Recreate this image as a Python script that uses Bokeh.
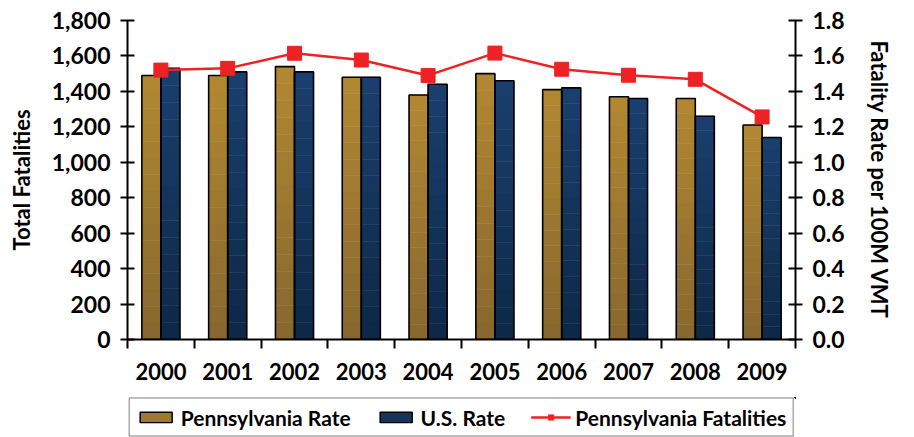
from bokeh.plotting import figure
from bokeh.layouts import column
from bokeh.models import (Range1d, LinearAxis, FixedTicker, NumeralTickFormatter,
                          Legend, LegendItem, ColumnDataSource)
from bokeh.embed import file_html
from bokeh.resources import INLINE

years = ["2000", "2001", "2002", "2003", "2004", "2005", "2006", "2007", "2008", "2009"]
pa_rate = [1.49, 1.49, 1.54, 1.48, 1.38, 1.50, 1.41, 1.37, 1.36, 1.21]
us_rate = [1.53, 1.51, 1.51, 1.48, 1.44, 1.46, 1.42, 1.36, 1.26, 1.14]
pa_fatalities = [1520, 1530, 1615, 1577, 1490, 1616, 1525, 1491, 1468, 1256]
left_ticks = [0, 200, 400, 600, 800, 1000, 1200, 1400, 1600, 1800]
right_ticks = [0.0, 0.2, 0.4, 0.6, 0.8, 1.0, 1.2, 1.4, 1.6, 1.8]

FONT = "Lato"
GOLD_TOP, GOLD_BOT, GOLD = (178, 136, 50), (135, 103, 46), "#9E7A31"
BLUE_TOP, BLUE_BOT, BLUE = (26, 63, 110), (13, 40, 70), "#153559"
RED = "#EE2224"
SLICES = 16

n = len(years)
centers = [i + 0.5 for i in range(n)]
bw = 0.285
src = ColumnDataSource(dict(
    xpa=[c - bw / 2 for c in centers],
    xus=[c + bw / 2 for c in centers],
    xc=centers, pa=pa_rate, us=us_rate, fat=pa_fatalities))

def hexcol(c1, c2, t):
    r, g, b = (round(a + (b_ - a) * t) for a, b_ in zip(c1, c2))
    return "#%02x%02x%02x" % (r, g, b)

def gradient_source(xs, tops, ctop, cbot):
    d = dict(x=[], bottom=[], top=[], color=[])
    for x, t in zip(xs, tops):
        for j in range(SLICES):
            d["x"].append(x)
            d["bottom"].append(t * j / SLICES)
            d["top"].append(t * (j + 1) / SLICES)
            d["color"].append(hexcol(cbot, ctop, (j + 0.5) / SLICES))
    return ColumnDataSource(d)

p = figure(width=914, height=397, output_backend="svg", toolbar_location=None,
           x_range=Range1d(0, n), y_range=Range1d(0, 1800),
           min_border_left=127, min_border_right=119, min_border_top=20,
           min_border_bottom=58, x_axis_location=None, y_axis_location=None)
p.extra_y_ranges = {"rate": Range1d(0, 1.8)}
p.grid.visible = False
p.outline_line_color = None

g_pa = gradient_source(src.data["xpa"], pa_rate, GOLD_TOP, GOLD_BOT)
g_us = gradient_source(src.data["xus"], us_rate, BLUE_TOP, BLUE_BOT)
for g in (g_pa, g_us):
    p.vbar(x="x", bottom="bottom", top="top", width=bw, source=g, y_range_name="rate",
           fill_color="color", line_color="color", line_width=0.5)
p.vbar(x="xpa", top="pa", width=bw, bottom=0, source=src, y_range_name="rate",
       fill_color=None, line_color="black", line_width=1.6)
p.vbar(x="xus", top="us", width=bw, bottom=0, source=src, y_range_name="rate",
       fill_color=None, line_color="black", line_width=1.6)
p.line(x="xc", y="fat", source=src, line_color=RED, line_width=2.5)
p.scatter(x="xc", y="fat", source=src, marker="square", size=14,
          fill_color=RED, line_color=RED)

def style_axis(ax):
    ax.axis_line_width = 2
    ax.axis_line_color = "black"
    ax.major_tick_line_width = 2
    ax.major_tick_line_color = "black"
    ax.minor_tick_line_width = 2
    ax.minor_tick_line_color = "black"
    ax.major_label_text_font = FONT
    ax.major_label_text_font_style = "bold"
    ax.major_label_text_font_size = "23px"
    ax.major_label_text_color = "black"
    ax.axis_label_text_font = FONT
    ax.axis_label_text_font_style = "bold"
    ax.axis_label_text_font_size = "22px"
    ax.axis_label_text_color = "black"

ax_l = LinearAxis(ticker=FixedTicker(ticks=left_ticks, minor_ticks=[]),
                  formatter=NumeralTickFormatter(format="0,0"),
                  axis_label="Total Fatalities")
style_axis(ax_l)
ax_l.major_tick_in = 7
ax_l.major_tick_out = 7
ax_l.major_label_standoff = 10
ax_l.axis_label_standoff = 14
p.add_layout(ax_l, "left")

ax_r = LinearAxis(y_range_name="rate",
                  ticker=FixedTicker(ticks=right_ticks, minor_ticks=[]),
                  formatter=NumeralTickFormatter(format="0.0"),
                  axis_label="Fatality Rate per 100M VMT")
style_axis(ax_r)
ax_r.major_tick_in = 7
ax_r.major_tick_out = 7
ax_r.major_label_standoff = 10
ax_r.axis_label_standoff = 18
p.add_layout(ax_r, "right")

ax_b = LinearAxis(ticker=FixedTicker(ticks=centers, minor_ticks=list(range(n + 1))),
                  major_label_overrides={c: y for c, y in zip(centers, years)})
style_axis(ax_b)
ax_b.major_label_text_font_size = "22px"
ax_b.major_tick_line_color = None
ax_b.minor_tick_in = 0
ax_b.minor_tick_out = 9
ax_b.major_label_standoff = 14
p.add_layout(ax_b, "below")

# legend strip: its renderers use the same data but lie outside its (empty) view
lg = figure(width=914, height=40, output_backend="svg", toolbar_location=None,
            x_range=Range1d(-20, -10), y_range=Range1d(-20, -10), min_border=0,
            x_axis_location=None, y_axis_location=None)
lg.grid.visible = False
lg.outline_line_color = None
l_pa = lg.vbar(x="xpa", top="pa", width=bw, source=src, fill_color=GOLD,
               line_color="black", line_width=1.5)
l_us = lg.vbar(x="xus", top="us", width=bw, source=src, fill_color=BLUE,
               line_color="black", line_width=1.5)
l_ln = lg.line(x="xc", y="fat", source=src, line_color=RED, line_width=2.5)
l_mk = lg.scatter(x="xc", y="fat", source=src, marker="square", size=11,
                  fill_color=RED, line_color=RED)
legend = Legend(items=[
    LegendItem(label="Pennsylvania Rate", renderers=[l_pa]),
    LegendItem(label="U.S. Rate", renderers=[l_us]),
    LegendItem(label="Pennsylvania Fatalities", renderers=[l_ln, l_mk]),
], orientation="horizontal", location="center")
legend.label_text_font = FONT
legend.label_text_font_style = "bold"
legend.label_text_font_size = "21px"
legend.label_text_color = "black"
legend.glyph_width = 40
legend.glyph_height = 13
legend.spacing = 25
legend.label_standoff = 5
legend.padding = 6
legend.margin = 0
legend.border_line_color = "black"
legend.border_line_width = 1.5
legend.background_fill_alpha = 1
lg.add_layout(legend, "center")

layout = column(p, lg, spacing=0)
open("out.html", "w").write(file_html(layout, INLINE))
